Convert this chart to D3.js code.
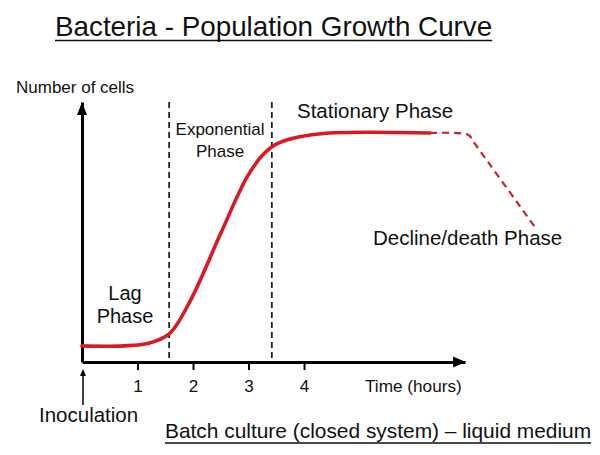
<!DOCTYPE html>
<html>
<head>
<meta charset="utf-8">
<script src="https://cdn.jsdelivr.net/npm/d3@7"></script>
<style>
  body { margin: 0; background: #fff; }
  text { font-family: "Liberation Sans", Arial, sans-serif; fill: #111; }
</style>
</head>
<body>
<script>
// values (time in hours, cells in arbitrary units 0-10)
var tickHours = [1, 2, 3, 4];
var phaseBounds = [1.57, 3.42];
var growthHours = [0, 0.75, 1.2, 1.57, 1.95, 2.5, 2.97, 3.25, 3.5, 3.9, 4.4, 6.27];
var growthCells = [0.62, 0.62, 0.72, 1.08, 2.35, 4.95, 7.1, 7.95, 8.38, 8.65, 8.8, 8.81];
var declineHours = [6.27, 6.8, 6.97, 7.07, 8.16];
var declineCells = [8.81, 8.8, 8.72, 8.42, 5.19];

var W = 600, H = 455;
var svg = d3.select('body').append('svg').attr('width', W).attr('height', H);

var x = d3.scaleLinear().domain([0, 6.9]).range([82, 465]);
var y = d3.scaleLinear().domain([0, 10]).range([362, 102]);

// title
var title = svg.append('text').text('Bacteria - Population Growth Curve')
    .attr('x', 55).attr('y', 36).style('font-size', '27.8px');
var tb = title.node().getBBox();
svg.append('line').attr('x1', tb.x).attr('x2', tb.x + tb.width)
    .attr('y1', 40.5).attr('y2', 40.5).attr('stroke', '#111').attr('stroke-width', 1.6);

// phase boundaries
svg.selectAll('.bound').data(phaseBounds).enter().append('line')
    .attr('class', 'bound')
    .attr('x1', function(d){ return x(d); }).attr('x2', function(d){ return x(d); })
    .attr('y1', y(10)).attr('y2', y(0))
    .attr('stroke', '#222').attr('stroke-width', 1.8).attr('stroke-dasharray', '6,4');

// axes
var xAxis = svg.append('g').attr('transform', 'translate(0,' + y(0) + ')')
    .call(d3.axisBottom(x).tickValues(tickHours).tickFormat(d3.format('d'))
        .tickSize(8).tickSizeOuter(0).tickPadding(10));
xAxis.select('.domain').attr('stroke', '#000').attr('stroke-width', 3);
xAxis.selectAll('.tick line').attr('stroke', '#000').attr('stroke-width', 2);
xAxis.selectAll('.tick text').style('font-size', '17px').attr('fill', '#111')
    .style('font-family', '"Liberation Sans", Arial, sans-serif');

var yAxis = svg.append('g').attr('transform', 'translate(' + x(0) + ',0)')
    .call(d3.axisLeft(y).tickValues([]).tickSizeOuter(0));
yAxis.select('.domain').attr('stroke', '#000').attr('stroke-width', 3);

// arrow heads
svg.append('path').attr('d', 'M' + (x(6.9) + 1) + ',' + y(0) + 'l-13,-5.5v11z').attr('fill', '#000');
svg.append('path').attr('d', 'M' + x(0) + ',' + (y(10) + 0) + 'l-5,13h10z').attr('fill', '#000');

// growth curve
var line = d3.line().curve(d3.curveCatmullRom.alpha(0.5))
    .x(function(d){ return x(d[0]); }).y(function(d){ return y(d[1]); });

svg.append('path').datum(d3.zip(growthHours, growthCells))
    .attr('d', line).attr('fill', 'none')
    .attr('stroke', '#da1a22').attr('stroke-width', 3.6).attr('stroke-linecap', 'round');

svg.append('path').datum(d3.zip(declineHours, declineCells))
    .attr('d', line).attr('fill', 'none')
    .attr('stroke', '#c4262b').attr('stroke-width', 2.2).attr('stroke-dasharray', '7,5');

// labels
svg.append('text').text('Number of cells').attr('x', 16).attr('y', 93).style('font-size', '17px');
svg.append('text').text('Exponential').attr('x', 220).attr('y', 135)
    .attr('text-anchor', 'middle').style('font-size', '17px');
svg.append('text').text('Phase').attr('x', 220).attr('y', 157)
    .attr('text-anchor', 'middle').style('font-size', '17px');
svg.append('text').text('Stationary Phase').attr('x', 297).attr('y', 118).style('font-size', '20.5px');
svg.append('text').text('Decline/death Phase').attr('x', 373).attr('y', 245).style('font-size', '20.5px');
svg.append('text').text('Lag').attr('x', 125).attr('y', 300)
    .attr('text-anchor', 'middle').style('font-size', '20px');
svg.append('text').text('Phase').attr('x', 125).attr('y', 323)
    .attr('text-anchor', 'middle').style('font-size', '20px');
svg.append('text').text('Time (hours)').attr('x', 365).attr('y', 392).style('font-size', '17.2px');

// inoculation marker
svg.append('line').attr('x1', x(0) + 1).attr('x2', x(0) + 1).attr('y1', 405).attr('y2', 374)
    .attr('stroke', '#000').attr('stroke-width', 1.5);
svg.append('path').attr('d', 'M' + (x(0) + 1) + ',369l-3,7h6z').attr('fill', '#000');
svg.append('text').text('Inoculation').attr('x', 39).attr('y', 422).style('font-size', '20.5px');

// footer
var foot = svg.append('text').text('Batch culture (closed system) \u2013 liquid medium')
    .attr('x', 165).attr('y', 438).style('font-size', '20.9px');
var fb = foot.node().getBBox();
svg.append('line').attr('x1', fb.x).attr('x2', fb.x + fb.width)
    .attr('y1', 443).attr('y2', 443).attr('stroke', '#111').attr('stroke-width', 1.4);
</script>
</body>
</html>
